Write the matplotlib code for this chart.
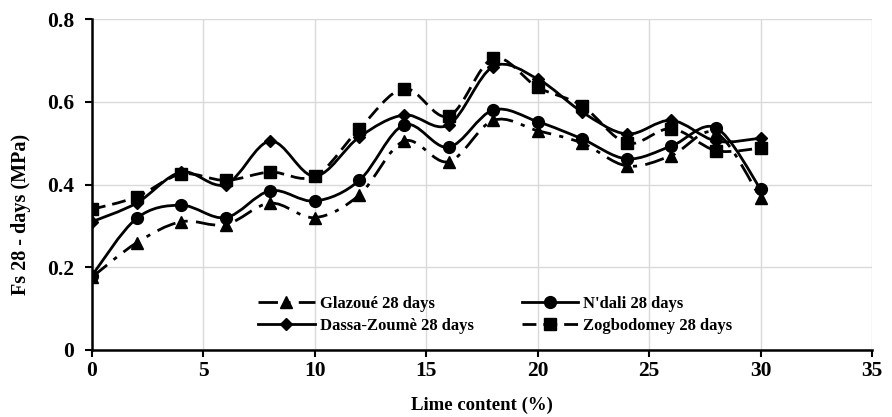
import matplotlib
matplotlib.use("Agg")
import matplotlib.pyplot as plt
import numpy as np
from matplotlib.path import Path
from matplotlib.patches import PathPatch
from matplotlib.lines import Line2D

plt.rcParams['font.family'] = ['Liberation Serif', 'DejaVu Serif']
plt.rcParams['font.weight'] = 'bold'

lime = [0, 2, 4, 6, 8, 10, 12, 14, 16, 18, 20, 22, 24, 26, 28, 30]
glazoue = [0.176, 0.259, 0.31, 0.303, 0.355, 0.32, 0.375, 0.505, 0.455, 0.555, 0.53, 0.50, 0.445, 0.47, 0.525, 0.367]
ndali = [0.18, 0.318, 0.35, 0.32, 0.385, 0.36, 0.41, 0.544, 0.49, 0.58, 0.552, 0.51, 0.462, 0.493, 0.537, 0.389]
dassa = [0.31, 0.355, 0.43, 0.40, 0.505, 0.42, 0.515, 0.568, 0.544, 0.685, 0.655, 0.575, 0.522, 0.555, 0.505, 0.512]
zogbo = [0.34, 0.37, 0.425, 0.41, 0.43, 0.42, 0.535, 0.632, 0.565, 0.705, 0.635, 0.59, 0.50, 0.535, 0.482, 0.488]

labels = ["Glazoué 28 days", "N'dali 28 days", "Dassa-Zoumè 28 days", "Zogbodomey 28 days"]
series = [glazoue, ndali, dassa, zogbo]
markers = ['^', 'o', 'D', 's']
msizes = [9, 8.5, 6, 9]
styles = [(0, (7, 3, 1.5, 3)), '-', '-', (0, (5, 2.5))]


def smooth_path(x, y):
    x = np.asarray(x, float)
    y = np.asarray(y, float)
    pts = np.column_stack([x, y])
    n = len(pts)
    verts = [pts[0]]
    codes = [Path.MOVETO]
    for i in range(n - 1):
        p0 = pts[i - 1] if i > 0 else pts[i]
        p1 = pts[i]
        p2 = pts[i + 1]
        p3 = pts[i + 2] if i + 2 < n else pts[i + 1]
        c1 = p1 + (p2 - p0) / 6.0
        c2 = p2 - (p3 - p1) / 6.0
        verts += [c1, c2, p2]
        codes += [Path.CURVE4] * 3
    return Path(verts, codes)


fig = plt.figure(figsize=(8.92, 4.17), dpi=100)
ax = fig.add_axes([0.1031, 0.1607, 0.8745, 0.7937])

handles = []
for ys, lab, mk, ms, ls in zip(series, labels, markers, msizes, styles):
    patch = PathPatch(smooth_path(lime, ys), fill=False, edgecolor='black',
                      linewidth=2, linestyle=ls, zorder=3)
    ax.add_patch(patch)
    ax.plot(lime, ys, linestyle='none', marker=mk, markersize=ms,
            color='black', zorder=4)
    handles.append(Line2D([], [], color='black', linewidth=2, linestyle=ls,
                          marker=mk, markersize=ms))

ax.set_xlim(0, 35)
ax.set_ylim(0, 0.8)
ax.set_xticks([0, 5, 10, 15, 20, 25, 30, 35])
ax.set_yticks([0, 0.2, 0.4, 0.6, 0.8])
ax.set_yticklabels(['0', '0.2', '0.4', '0.6', '0.8'])
ax.grid(True, color='#d9d9d9', linewidth=1)
ax.set_axisbelow(True)
for s in ['top', 'right']:
    ax.spines[s].set_visible(False)
for s in ['left', 'bottom']:
    ax.spines[s].set_linewidth(1.8)
ax.tick_params(axis='both', direction='out', length=5, width=1.5, labelsize=15.5)
ax.tick_params(axis='y', pad=8)
ax.tick_params(axis='x', pad=3)
ax.set_xlabel('Lime content (%)', fontsize=13.5, fontweight='bold', labelpad=11)
ax.set_ylabel('Fs 28 - days (MPa)', fontsize=14.5, fontweight='bold', labelpad=10)
ax.yaxis.set_label_coords(-0.078, 0.41)

order = [0, 2, 1, 3]
ax.legend([handles[i] for i in order], [labels[i] for i in order], ncol=2,
          frameon=False, fontsize=12, loc='center', bbox_to_anchor=(0.517, 0.105),
          handlelength=3.4, columnspacing=2.9, handletextpad=0.3, labelspacing=0.35)

fig.savefig('out.png', dpi=100)
